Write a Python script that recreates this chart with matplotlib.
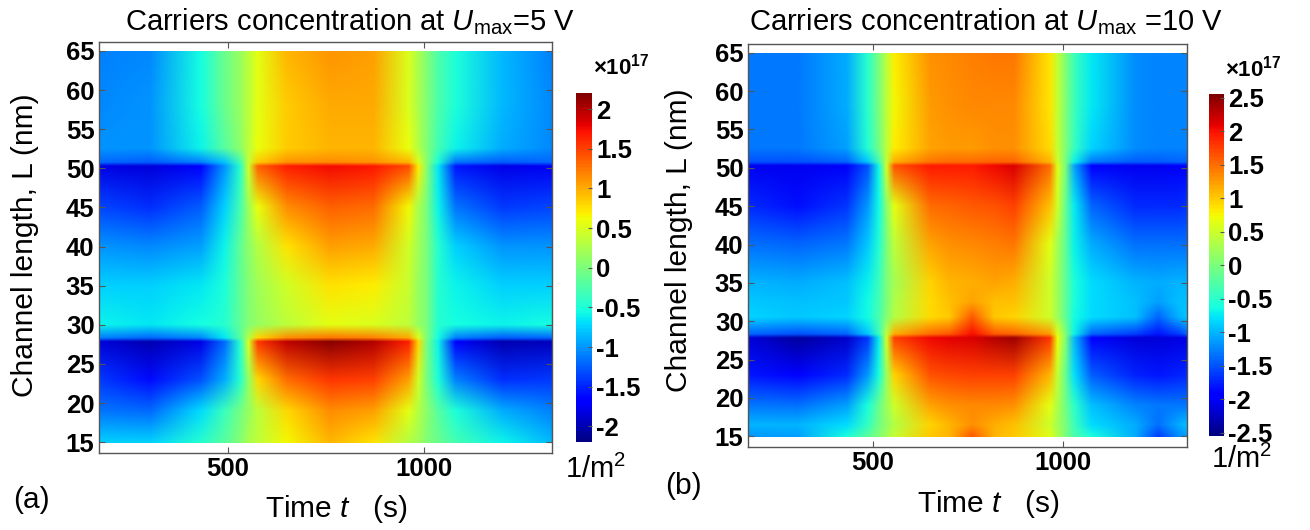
import matplotlib
matplotlib.use("Agg")
import matplotlib.patches as mpatches
import matplotlib.pyplot as plt
import numpy as np
from matplotlib.colors import Normalize
from matplotlib.image import NonUniformImage

plt.rcParams["font.family"] = "Liberation Sans"
plt.rcParams["mathtext.fontset"] = "custom"
plt.rcParams["mathtext.rm"] = "Liberation Sans"
plt.rcParams["mathtext.it"] = "Liberation Sans:italic"
plt.rcParams["mathtext.bf"] = "Liberation Sans:bold"
plt.rcParams["axes.unicode_minus"] = False

# ---------------------------------------------------------------------------
# Data (units of 1e17 1/m^2)
# ---------------------------------------------------------------------------
T_A = [171, 300, 430, 490, 530, 552, 575, 650, 760, 870, 960, 985, 1005, 1035, 1080, 1200, 1327]
L_A = [15, 19, 23, 27.8, 28.3, 30, 35, 40, 45, 50.2, 50.7, 52.5, 58, 65]
C_A = [
    [-0.75, -0.75, -0.45, -0.2, 0.05, 0.25, 0.35, 0.65, 0.95, 0.75, 0.3, 0.2, 0.05, -0.1, -0.3, -0.6, -0.85],
    [-1.15, -1.2, -0.7, -0.35, -0.05, 0.15, 0.35, 0.8, 1.15, 1.05, 0.55, 0.3, 0.1, -0.2, -0.5, -0.9, -1.1],
    [-1.4, -1.6, -1.3, -0.9, -0.45, 0.15, 0.8, 1.3, 1.55, 1.5, 1.05, 0.45, 0.0, -0.5, -1.1, -1.45, -1.4],
    [-1.85, -2.0, -1.8, -1.2, -0.45, 0.5, 1.55, 1.95, 2.15, 2.0, 1.65, 0.8, 0.0, -0.6, -1.65, -2.0, -1.95],
    [-1.1, -1.2, -1.05, -0.65, -0.2, 0.3, 0.8, 1.15, 1.25, 1.2, 1.0, 0.5, 0.05, -0.55, -1.1, -1.25, -1.2],
    [-0.6, -0.65, -0.55, -0.45, -0.15, 0.05, 0.15, 0.35, 0.55, 0.5, 0.35, 0.15, 0.0, -0.45, -0.55, -0.6, -0.55],
    [-0.75, -0.75, -0.65, -0.5, -0.15, 0.05, 0.2, 0.45, 0.75, 0.7, 0.4, 0.15, 0.0, -0.45, -0.6, -0.75, -0.75],
    [-1.0, -1.05, -0.95, -0.6, -0.15, 0.1, 0.3, 0.75, 1.05, 1.0, 0.45, 0.2, 0.0, -0.45, -0.75, -1.0, -1.0],
    [-1.35, -1.45, -1.25, -0.75, -0.3, 0.2, 0.6, 1.15, 1.35, 1.3, 0.65, 0.25, 0.0, -0.6, -1.15, -1.4, -1.35],
    [-1.8, -1.85, -1.7, -1.0, -0.45, 0.45, 1.35, 1.65, 1.75, 1.7, 1.45, 0.7, 0.1, -0.65, -1.55, -1.8, -1.75],
    [-1.2, -1.25, -1.1, -0.8, -0.3, 0.4, 0.85, 1.1, 1.15, 1.1, 0.95, 0.5, 0.1, -0.5, -1.15, -1.25, -1.2],
    [-1.0, -1.0, -0.6, -0.2, 0.1, 0.35, 0.6, 0.85, 0.95, 0.95, 0.6, 0.3, 0.05, -0.3, -0.6, -0.9, -1.05],
    [-1.05, -1.0, -0.55, -0.1, 0.15, 0.35, 0.55, 0.85, 1.0, 1.0, 0.5, 0.25, 0.05, -0.25, -0.5, -0.85, -1.05],
    [-1.1, -1.05, -0.55, -0.1, 0.15, 0.35, 0.55, 0.95, 1.1, 1.05, 0.5, 0.25, 0.05, -0.25, -0.5, -0.85, -1.1],
]

T_B = [171, 300, 430, 485, 515, 535, 555, 650, 700, 760, 820, 870, 965, 985, 1005, 1030, 1075,
       1190, 1250, 1305, 1327]
L_B = [15, 16.5, 19, 23, 27.8, 28.3, 30.5, 32.5, 35, 40, 45, 50.2, 50.7, 52.5, 58, 65]
C_B = [
    [-1.15, -1.1, -0.6, -0.2, 0.05, 0.25, 0.45, 1.0, 1.1, 1.6, 1.1, 1.0, 0.6, 0.3, 0.0, -0.3, -0.6, -1.05, -1.6, -1.2, -1.1],
    [-1.0, -1.0, -0.8, -0.45, -0.05, 0.15, 0.35, 0.95, 1.1, 1.3, 1.15, 1.05, 0.5, 0.25, 0.0, -0.4, -0.8, -1.05, -1.35, -1.05, -0.95],
    [-1.3, -1.35, -1.1, -0.6, -0.1, 0.2, 0.5, 1.2, 1.3, 1.35, 1.35, 1.3, 0.65, 0.3, -0.05, -0.5, -0.95, -1.25, -1.3, -1.3, -1.3],
    [-1.8, -1.9, -1.7, -1.15, -0.6, 0.2, 0.95, 1.65, 1.7, 1.75, 1.75, 1.75, 1.1, 0.45, -0.1, -0.8, -1.45, -1.75, -1.8, -1.75, -1.7],
    [-2.15, -2.4, -2.2, -1.65, -0.7, 0.55, 1.75, 2.05, 2.1, 2.15, 2.3, 2.4, 1.8, 0.7, 0.05, -1.0, -1.95, -2.15, -2.15, -2.1, -2.1],
    [-1.4, -1.5, -1.4, -0.9, -0.4, 0.4, 1.15, 1.5, 1.6, 2.0, 1.6, 1.55, 1.25, 0.6, 0.05, -0.7, -1.4, -1.6, -1.8, -1.6, -1.4],
    [-0.85, -0.9, -0.85, -0.65, -0.3, 0.05, 0.35, 0.9, 1.0, 1.6, 1.0, 0.95, 0.5, 0.2, -0.15, -0.65, -0.8, -0.95, -1.4, -1.0, -0.9],
    [-0.9, -0.95, -0.9, -0.65, -0.35, 0.0, 0.3, 0.9, 1.05, 1.2, 1.05, 1.05, 0.5, 0.2, -0.15, -0.6, -0.8, -0.95, -1.1, -0.95, -0.95],
    [-1.0, -1.05, -0.95, -0.7, -0.4, 0.0, 0.25, 0.95, 1.1, 1.15, 1.2, 1.15, 0.5, 0.2, -0.15, -0.6, -0.8, -1.0, -1.05, -1.0, -1.0],
    [-1.35, -1.4, -1.3, -0.9, -0.55, 0.0, 0.4, 1.2, 1.3, 1.35, 1.4, 1.45, 0.65, 0.25, -0.15, -0.7, -1.05, -1.35, -1.35, -1.35, -1.35],
    [-1.7, -1.85, -1.65, -1.15, -0.65, 0.1, 0.65, 1.5, 1.55, 1.6, 1.65, 1.75, 1.05, 0.5, -0.1, -0.75, -1.4, -1.7, -1.7, -1.7, -1.65],
    [-2.05, -2.05, -2.0, -1.5, -0.65, 0.55, 1.65, 1.95, 1.95, 1.95, 2.05, 2.15, 1.5, 0.6, 0.0, -1.1, -1.9, -2.05, -2.05, -2.0, -2.0],
    [-1.5, -1.5, -1.4, -0.9, -0.35, 0.45, 1.15, 1.45, 1.5, 1.5, 1.55, 1.55, 1.1, 0.5, 0.0, -0.7, -1.3, -1.45, -1.45, -1.4, -1.4],
    [-1.3, -1.3, -1.1, -0.55, -0.05, 0.4, 0.8, 1.2, 1.25, 1.25, 1.3, 1.3, 0.9, 0.45, 0.05, -0.45, -0.85, -1.2, -1.25, -1.25, -1.25],
    [-1.3, -1.3, -1.05, -0.5, 0.0, 0.4, 0.75, 1.25, 1.3, 1.35, 1.35, 1.35, 0.85, 0.45, 0.05, -0.4, -0.75, -1.2, -1.25, -1.25, -1.25],
    [-1.3, -1.3, -1.05, -0.5, 0.0, 0.4, 0.8, 1.3, 1.35, 1.4, 1.45, 1.45, 0.85, 0.45, 0.05, -0.4, -0.75, -1.2, -1.25, -1.25, -1.25],
]

CLIM_A = 2.2
CLIM_B = 2.55
CBAR_TICKS_A = [-2, -1.5, -1, -0.5, 0, 0.5, 1, 1.5, 2]
CBAR_TICKS_B = [-2.5, -2, -1.5, -1, -0.5, 0, 0.5, 1, 1.5, 2, 2.5]
Y_TICKS = [15, 20, 25, 30, 35, 40, 45, 50, 55, 60, 65]
X_TICKS = [500, 1000]

W, H = 1310, 530
FRAME = "#555555"


def fx(px):
    return px / W


def fy(py):
    return 1 - py / H


def draw_panel(fig, rect, cbar_rect, t, l, c, clim, cticks):
    ax = fig.add_axes(rect)
    ax.set_xlim(171, 1327)
    ax.set_ylim(13.65, 66.1)

    # bilinear image on the non-uniform (t, L) grid, clipped to the data box
    im = NonUniformImage(ax, interpolation="bilinear", cmap="jet",
                         norm=Normalize(-clim, clim))
    im.set_data(np.array(t, float), np.array(l, float), np.array(c, float))
    ax.add_image(im)
    box = mpatches.Rectangle((t[0], l[0]), t[-1] - t[0], l[-1] - l[0],
                             transform=ax.transData)
    im.set_clip_path(box)

    ax.set_xticks(X_TICKS)
    ax.set_yticks(Y_TICKS)
    ax.tick_params(direction="in", top=True, right=True, length=4, width=0.8,
                   color=FRAME, labelsize=18.5, pad=3)
    for lab in ax.get_xticklabels() + ax.get_yticklabels():
        lab.set_fontweight("bold")
    for sp in ax.spines.values():
        sp.set_color(FRAME)
        sp.set_linewidth(1.0)

    cax = fig.add_axes(cbar_rect)
    cb = fig.colorbar(im, cax=cax)
    cb.outline.set_linewidth(0)
    cb.set_ticks(cticks)
    cb.set_ticklabels([f"{v:g}" for v in cticks])
    cax.tick_params(direction="in", length=3, width=0.8, color=FRAME,
                    labelsize=18.5, pad=3)
    for lab in cax.get_yticklabels():
        lab.set_fontweight("bold")
    return ax


fig = plt.figure(figsize=(W / 100, H / 100), dpi=100)

draw_panel(fig, [fx(98.7), fy(452.7), fx(552 - 98.7), (452.7 - 42.3) / H],
           [fx(575.7), fy(442.3), fx(16.3), (442.3 - 93.3) / H],
           T_A, L_A, C_A, CLIM_A, CBAR_TICKS_A)
draw_panel(fig, [fx(747.7), fy(446.7), fx(1186.7 - 747.7), (446.7 - 44.3) / H],
           [fx(1209), fy(436), fx(15.3), (436 - 94.3) / H],
           T_B, L_B, C_B, CLIM_B, CBAR_TICKS_B)

# titles
fig.text(fx(350), fy(30), r"Carriers concentration at $\mathit{U}_{\mathrm{max}}$=5 V",
         ha="center", va="baseline", fontsize=21)
fig.text(fx(986), fy(30), r"Carriers concentration at $\mathit{U}_{\mathrm{max}}$ =10 V",
         ha="center", va="baseline", fontsize=21)

# axis labels
fig.text(fx(336), fy(517), r"Time $\mathit{t}$   (s)", ha="center", va="baseline", fontsize=21.5)
fig.text(fx(988), fy(512), r"Time $\mathit{t}$   (s)", ha="center", va="baseline", fontsize=21.5)
fig.text(fx(25), fy(245), "Channel length, L (nm)", rotation=90,
         ha="center", va="center", fontsize=21.5)
fig.text(fx(679), fy(240), "Channel length, L (nm)", rotation=90,
         ha="center", va="center", fontsize=21.5)

# panel letters
fig.text(fx(13), fy(500), "(a)", ha="left", va="center", fontsize=21.5)
fig.text(fx(665), fy(486), "(b)", ha="left", va="center", fontsize=21.5)

# colorbar annotations
fig.text(fx(593), fy(75), r"$\mathbf{\times 10^{17}}$", ha="left", va="baseline", fontsize=16)
fig.text(fx(1225), fy(76), r"$\mathbf{\times 10^{17}}$", ha="left", va="baseline", fontsize=16)
fig.text(fx(596), fy(478), r"1/m$^2$", ha="center", va="baseline", fontsize=21)
fig.text(fx(1242), fy(468), r"1/m$^2$", ha="center", va="baseline", fontsize=21)

fig.savefig("out.png", dpi=100)
